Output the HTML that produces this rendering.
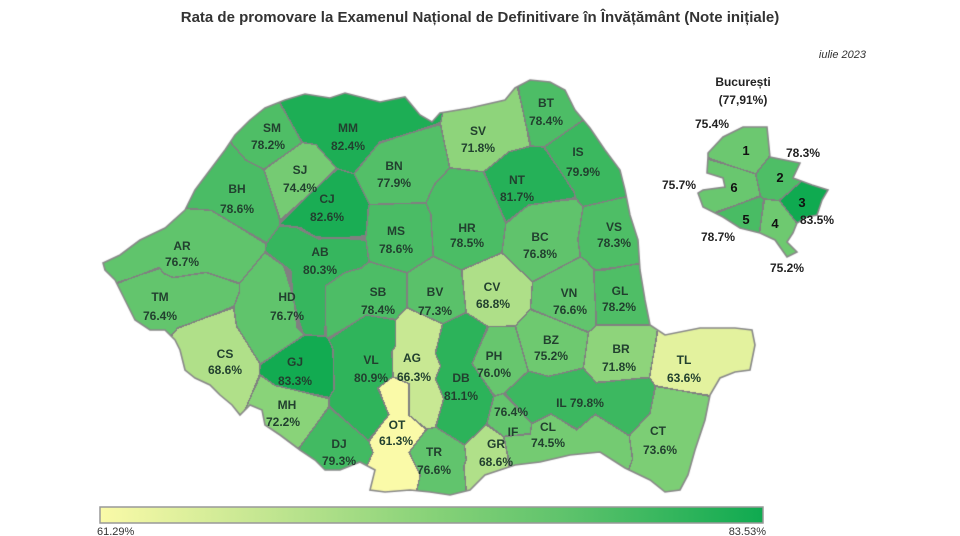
<!DOCTYPE html>
<html><head><meta charset="utf-8"><style>
html,body{margin:0;padding:0;background:#fff;}
#w{position:relative;width:960px;height:536px;overflow:hidden;}
canvas,svg{position:absolute;left:0;top:0;}
text{font-family:"Liberation Sans",sans-serif;}
</style></head><body><div id="w">
<canvas id="c" width="960" height="536"></canvas>
<svg width="960" height="536" viewBox="0 0 960 536">
<defs><linearGradient id="g" x1="0" x2="1" y1="0" y2="0">
<stop offset="0" stop-color="#fafaa8"/><stop offset="0.25" stop-color="#c3e691"/>
<stop offset="0.5" stop-color="#87d278"/><stop offset="0.7" stop-color="#5fc36c"/><stop offset="1" stop-color="#0faa50"/></linearGradient></defs>
<text x="480" y="22" text-anchor="middle" font-size="15" font-weight="bold" fill="#333">Rata de promovare la Examenul Național de Definitivare în Învățământ (Note inițiale)</text>
<text x="866" y="58" text-anchor="end" font-size="11" font-style="italic" fill="#333">iulie 2023</text>
<rect x="100" y="507" width="663" height="16" fill="url(#g)" stroke="#999" stroke-width="1.5"/>
<text x="97" y="535" font-size="11" fill="#333">61.29%</text>
<text x="766" y="535" text-anchor="end" font-size="11" fill="#333">83.53%</text>
<g font-size="12" font-weight="bold" fill="#22402f" text-anchor="middle" id="lbl"></g>
</svg></div>
<script>
var D=[
["SM",78.2,272,128,268,145],["MM",82.4,348,128,348,146],["BT",78.4,546,103,546,121],["SV",71.8,478,131,478,148],
["IS",79.9,578,152,583,172],["NT",81.7,517,180,517,197],["BN",77.9,394,166,394,183],["SJ",74.4,300,170,300,188],
["CJ",82.6,327,199,327,217],["BH",78.6,237,189,237,209],["VS",78.3,614,227,614,243],["HR",78.5,467,228,467,243],
["MS",78.6,396,231,396,249],["BC",76.8,540,237,540,254],["AR",76.7,182,246,182,262],["AB",80.3,320,252,320,270],
["CV",68.8,492,287,493,304],["VN",76.6,569,293,570,310],["GL",78.2,620,291,619,307],["TM",76.4,160,297,160,316],
["HD",76.7,287,297,287,316],["SB",78.4,378,292,378,310],["BV",77.3,435,292,435,311],["BZ",75.2,551,340,551,356],
["PH",76.0,494,356,494,373],["BR",71.8,621,349,619,367],["TL",63.6,684,360,684,378],["CS",68.6,225,354,225,370],
["GJ",83.3,295,362,295,381],["VL",80.9,371,360,371,378],["AG",66.3,412,358,414,377],["DB",81.1,461,378,461,396],
["IL",79.8,0,0,580,407],["IF",76.4,513,432,511,412],["MH",72.2,287,405,283,422],["OT",61.3,397,425,396,441],
["CL",74.5,548,427,548,443],["CT",73.6,658,431,660,450],["DJ",79.3,339,444,339,461],["GR",68.6,496,444,496,462],
["TR",76.6,434,452,434,470]];
var extra={MM:[[400,118],[310,110]],SV:[[500,118]],BH:[[215,180]],AR:[[130,262],[210,240]],TM:[[140,290],[190,300]],
OT:[[397,400],[397,475]],AG:[[418,335],[420,400]],DB:[[458,345],[462,412]],VL:[[372,335],[372,410]],CT:[[675,415],[665,470]],
TL:[[715,345],[735,355]],IL:[[535,405],[625,405]],CL:[[515,445],[600,445]],CS:[[230,395],[205,340]],TR:[[440,485]],
DJ:[[330,475]],IS:[[600,170]],BT:[[555,90]],GL:[[630,280]],VS:[[625,250]],HD:[[270,330]],GR:[[490,480]],MH:[[265,410]],
BN:[[410,150]],HR:[[470,205]],BC:[[545,220]],SB:[[350,300]],NT:[[540,185]],CJ:[[335,230]],AB:[[300,300],[335,245]]};
function col(v){var t=(v-61.29)/(83.53-61.29);var s=[[0,250,250,168],[.25,195,230,145],[.5,135,210,120],[.7,95,195,108],[1,15,170,80]];
for(var i=0;i<4;i++){if(t<=s[i+1][0]){var f=(t-s[i][0])/(s[i+1][0]-s[i][0]);return [0,1,2].map(function(k){return Math.round(s[i][k+1]+f*(s[i+1][k+1]-s[i][k+1]))});}}return [15,170,80];}
var seeds=[];
D.forEach(function(d,i){var c=col(d[1]);var y=d[2]?(d[3]+d[5])/2-4:d[5]-4;var x=d[2]?(d[2]+d[4])/2:d[4]-15;if(d[0]=="IF"){x=513;y=425;}
seeds.push([x,y,i,c]);(extra[d[0]]||[]).forEach(function(p){seeds.push([p[0],p[1],i,c]);});});
var B=[[746,150,75.4],[780,177,78.3],[802,202,83.5],[775,223,75.2],[746,219,78.7],[734,187,75.7]];
var bseeds=B.map(function(b,i){return [b[0],b[1],i,col(b[2])];});
var RO=[[103,263],[120,255],[140,240],[165,228],[185,210],[195,190],[210,170],[225,150],[235,135],[250,120],[265,108],[285,100],[305,94],[330,98],[345,93],[380,102],[405,97],[420,115],[432,122],[440,113],[470,108],[505,100],[515,88],[530,80],[550,82],[565,90],[575,110],[590,128],[605,150],[620,170],[625,190],[630,215],[638,240],[640,270],[645,300],[650,325],[665,335],[700,328],[735,328],[752,330],[755,345],[750,370],[735,372],[720,378],[710,395],[705,420],[695,450],[688,475],[680,490],[665,492],[650,480],[625,468],[600,452],[570,455],[540,462],[515,465],[500,470],[485,475],[470,490],[450,495],[430,492],[410,490],[385,492],[370,490],[375,470],[360,462],[340,470],[325,470],[315,460],[300,450],[280,435],[265,425],[262,410],[250,405],[240,415],[232,405],[220,395],[210,385],[195,378],[185,370],[180,350],[175,340],[165,330],[150,330],[135,320],[125,300],[115,280],[105,270]];
var BU=[[708,153],[723,137],[743,127],[767,127],[770,157],[800,163],[793,178],[812,185],[828,190],[822,200],[817,215],[807,217],[797,223],[793,233],[787,242],[797,252],[787,257],[775,240],[760,233],[740,228],[723,217],[703,207],[698,193],[703,190],[725,187],[723,178],[707,173],[708,157]];
var cv=document.getElementById('c'),ctx=cv.getContext('2d');
function path(P){ctx.beginPath();ctx.moveTo(P[0][0],P[0][1]);for(var i=1;i<P.length;i++)ctx.lineTo(P[i][0],P[i][1]);ctx.closePath();}
var img=ctx.createImageData(960,536),px=img.data;
function fill(P,S,x0,x1,y0,y1){path(P);for(var y=y0;y<y1;y++)for(var x=x0;x<x1;x++){if(!ctx.isPointInPath(x+.5,y+.5))continue;
var b1=1e9,b2=1e9,i1=-1,r1=null;for(var k=0;k<S.length;k++){var dx=S[k][0]-x,dy=S[k][1]-y,d=dx*dx+dy*dy;
if(d<b1){if(i1!=S[k][2]){b2=b1;}b1=d;i1=S[k][2];r1=S[k][3];}else if(d<b2&&S[k][2]!=i1){b2=d;}}
var o=(y*960+x)*4,c=(Math.sqrt(b2)-Math.sqrt(b1)<1.4)?[128,128,128]:r1;px[o]=c[0];px[o+1]=c[1];px[o+2]=c[2];px[o+3]=255;}}
fill(RO,seeds,95,765,70,500);fill(BU,bseeds,690,835,120,262);
ctx.putImageData(img,0,0);
ctx.strokeStyle='#888';ctx.lineWidth=1.6;path(RO);ctx.stroke();path(BU);ctx.stroke();
var g=document.getElementById('lbl'),h='';
D.forEach(function(d){if(d[0]=="IL"){h+='<text x="'+d[4]+'" y="'+d[5]+'">IL 79.8%</text>';return;}
h+='<text x="'+d[2]+'" y="'+(d[3]+4)+'">'+d[0]+'</text><text x="'+d[4]+'" y="'+(d[5]+4)+'">'+d[1].toFixed(1)+'%</text>';});
B.forEach(function(b,i){h+='<text x="'+b[0]+'" y="'+(b[1]+5)+'" font-size="13" fill="#111">'+(i+1)+'</text>';});
[[743,86,"București"],[743,104,"(77,91%)"],[712,128,"75.4%"],[803,157,"78.3%"],[679,189,"75.7%"],[817,224,"83.5%"],[718,241,"78.7%"],[787,272,"75.2%"]].forEach(function(t){h+='<text x="'+t[0]+'" y="'+t[1]+'" fill="#222">'+t[2]+'</text>';});
g.innerHTML=h;
</script></body></html>
